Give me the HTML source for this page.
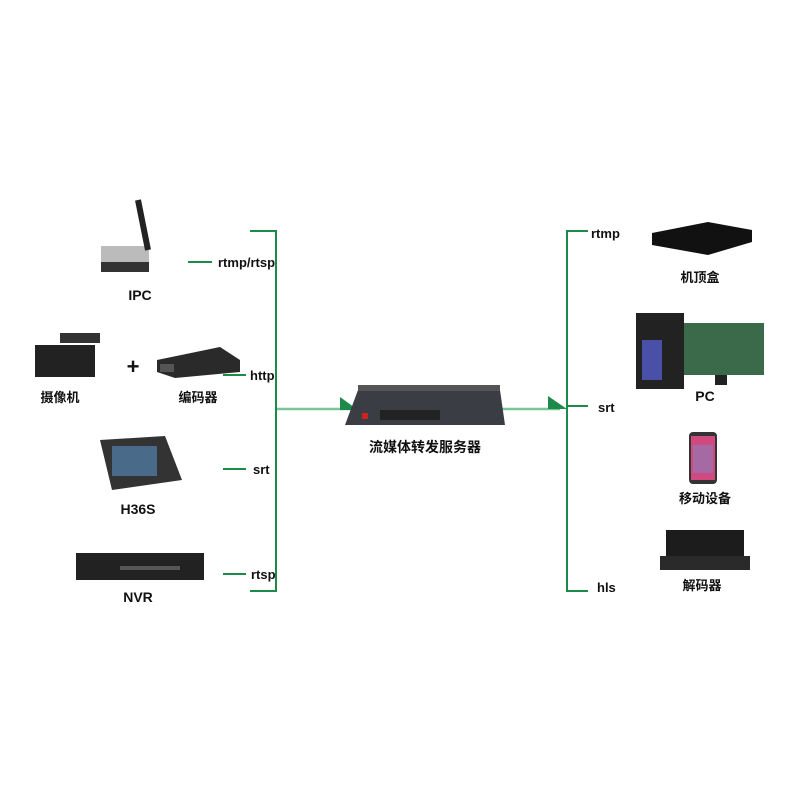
<!DOCTYPE html>
<html><head><meta charset="utf-8"><style>
html,body{margin:0;padding:0;background:#fff;}
text{font-family:"Liberation Sans","Noto Sans CJK SC",sans-serif;fill:#111;font-weight:600;}
</style></head><body>
<svg width="800" height="800" viewBox="0 0 800 800" xmlns="http://www.w3.org/2000/svg">
<g stroke="#1e8a4a" stroke-width="2" fill="none">
<polyline points="250,231 276,231 276,591 250,591"/>
<line x1="188" y1="262" x2="212" y2="262"/>
<line x1="223" y1="375" x2="246" y2="375"/>
<line x1="223" y1="469" x2="246" y2="469"/>
<line x1="223" y1="574" x2="246" y2="574"/>
<polyline points="588,231 567,231 567,591 588,591"/>
<line x1="567" y1="406" x2="588" y2="406"/>
</g>
<line x1="277" y1="409" x2="560" y2="409" stroke="#7cc49a" stroke-width="2.5"/>
<polygon points="340,397 358,410 340,410" fill="#1e8a4a"/>
<polygon points="548,396 567,409 548,409" fill="#1e8a4a"/>
<g font-size="13">
<text x="218" y="267">rtmp/rtsp</text>
<text x="250" y="380">http</text>
<text x="253" y="474">srt</text>
<text x="251" y="579">rtsp</text>
<text x="591" y="238">rtmp</text>
<text x="598" y="412">srt</text>
<text x="597" y="592">hls</text>
</g>
<!-- server -->
<polygon points="358,390 500,390 505,425 345,425" fill="#3a3d44"/>
<rect x="358" y="385" width="142" height="6" fill="#555"/>
<rect x="362" y="413" width="6" height="6" fill="#c22"/>
<rect x="380" y="410" width="60" height="10" fill="#222"/>
<text x="425" y="452" font-size="14" text-anchor="middle">流媒体转发服务器</text>
<!-- IPC -->
<rect x="101" y="246" width="48" height="26" fill="#bbb"/>
<rect x="101" y="262" width="48" height="10" fill="#333"/>
<line x1="148" y1="250" x2="138" y2="200" stroke="#222" stroke-width="6"/>
<text x="140" y="300" font-size="14" text-anchor="middle">IPC</text>
<!-- camcorder -->
<rect x="35" y="345" width="60" height="32" fill="#222"/>
<rect x="60" y="333" width="40" height="10" fill="#333"/>
<text x="133" y="374" font-size="22" text-anchor="middle">+</text>
<text x="60" y="402" font-size="13" text-anchor="middle">摄像机</text>
<!-- encoder -->
<polygon points="157,360 220,347 240,360 240,372 175,378 157,372" fill="#2a2a2a"/>
<rect x="160" y="364" width="14" height="8" fill="#555"/>
<text x="198" y="402" font-size="13" text-anchor="middle">编码器</text>
<!-- H36S -->
<polygon points="100,440 165,436 182,480 112,490" fill="#333"/>
<rect x="112" y="446" width="45" height="30" fill="#4a6a8a"/>
<text x="138" y="514" font-size="14" text-anchor="middle">H36S</text>
<!-- NVR -->
<rect x="76" y="553" width="128" height="27" fill="#222"/>
<rect x="120" y="566" width="60" height="4" fill="#555"/>
<text x="138" y="602" font-size="14" text-anchor="middle">NVR</text>
<!-- STB -->
<polygon points="652,233 708,222 752,230 752,242 708,255 652,245" fill="#111"/>
<text x="700" y="282" font-size="13" text-anchor="middle">机顶盒</text>
<!-- PC -->
<rect x="636" y="313" width="48" height="76" fill="#222"/>
<rect x="642" y="340" width="20" height="40" fill="#4a50a8"/>
<rect x="684" y="323" width="80" height="52" fill="#3a6a4a"/>
<rect x="715" y="375" width="12" height="10" fill="#222"/>
<text x="705" y="401" font-size="14" text-anchor="middle">PC</text>
<!-- phone -->
<rect x="689" y="432" width="28" height="52" rx="4" fill="#333"/>
<rect x="691" y="436" width="24" height="44" fill="#d04a80"/>
<rect x="693" y="445" width="20" height="28" fill="#7a8ac8" opacity="0.5"/>
<text x="705" y="503" font-size="13" text-anchor="middle">移动设备</text>
<!-- decoder -->
<rect x="666" y="530" width="78" height="28" fill="#1c1c1c"/>
<rect x="660" y="556" width="90" height="14" fill="#2a2a2a"/>
<text x="702" y="590" font-size="13" text-anchor="middle">解码器</text>
</svg>
</body></html>
